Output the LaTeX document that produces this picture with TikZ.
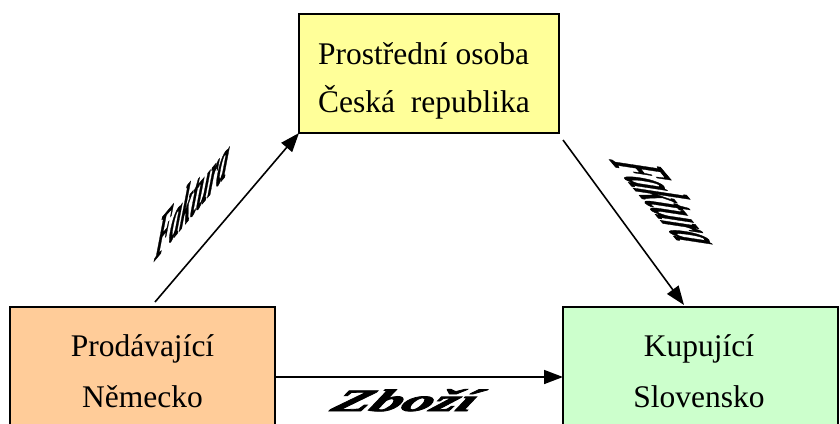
\documentclass[tikz,border=0pt]{standalone}
\usepackage{fontspec}
\setmainfont{Liberation Serif}
\newfontfamily\artfont{Liberation Serif}[FakeBold=2.5]
\newfontfamily\artfontlight{Liberation Serif}[FakeBold=1.5]
\usetikzlibrary{arrows.meta}
\definecolor{boxyellow}{HTML}{FFFF99}
\definecolor{boxorange}{HTML}{FFCC99}
\definecolor{boxgreen}{HTML}{CCFFCC}

\begin{document}
\begin{tikzpicture}[x=1pt,y=1pt,
  party/.style={draw=black, line width=1.4pt, inner sep=0pt, outer sep=0pt, anchor=north west},
  caption/.style={font=\fontsize{31.5}{31.5}\selectfont, inner sep=0pt},
  flow/.style={line width=1.6pt, -{Triangle[length=19pt,width=14pt]}},
  wordart/.style={font=\artfontlight\fontsize{30}{30}\selectfont\bfseries\itshape, inner sep=0pt}]
\useasboundingbox (0,0) rectangle (840,-423);
\clip (0,0) rectangle (840,-423);

% the three parties
\node[party, fill=boxyellow, minimum width=260pt, minimum height=119pt] (mid) at (299,-14) {};
\node[party, fill=boxorange, minimum width=265pt, minimum height=140pt] (seller) at (10,-307) {};
\node[party, fill=boxgreen, minimum width=275pt, minimum height=140pt] (buyer) at (563,-307) {};

% box texts
\node[caption, anchor=base west] (midA) at (318,-64) {Prostřední osoba};
\node[caption, anchor=base west] (midB) at (318,-112) {Česká\ \ republika};
\node[caption, anchor=base] (sellerA) at (142.5,-356) {Prodávající};
\node[caption, anchor=base] (sellerB) at (142.5,-407) {Německo};
\node[caption, anchor=base] (buyerA) at (699,-356) {Kupující};
\node[caption, anchor=base] (buyerB) at (699,-407) {Slovensko};

% connectors
\coordinate (s1) at (155,-302);
\coordinate (s2) at (563,-140);
\coordinate (t2) at (684,-305);
\draw[flow] (s1) -- (mid.south west);
\draw[flow] (s2) -- (t2);
\draw[flow] (seller.east) -- (buyer.west);

% slanted labels
\node[wordart, cm={0.707,0.843,0.308,2.119,(0,0)}] (inv1) at (193,-197) {Faktura};
\node[wordart, cm={0.675,-0.804,2.478,-0.253,(0,0)}] (inv2) at (669,-203) {Faktura};
\node[wordart, font=\artfont\fontsize{31}{31}\selectfont\bfseries\itshape, xslant=0.6, xscale=2.0, anchor=base] (goods) at (400,-411) {Zboží};
\end{tikzpicture}
\end{document}
